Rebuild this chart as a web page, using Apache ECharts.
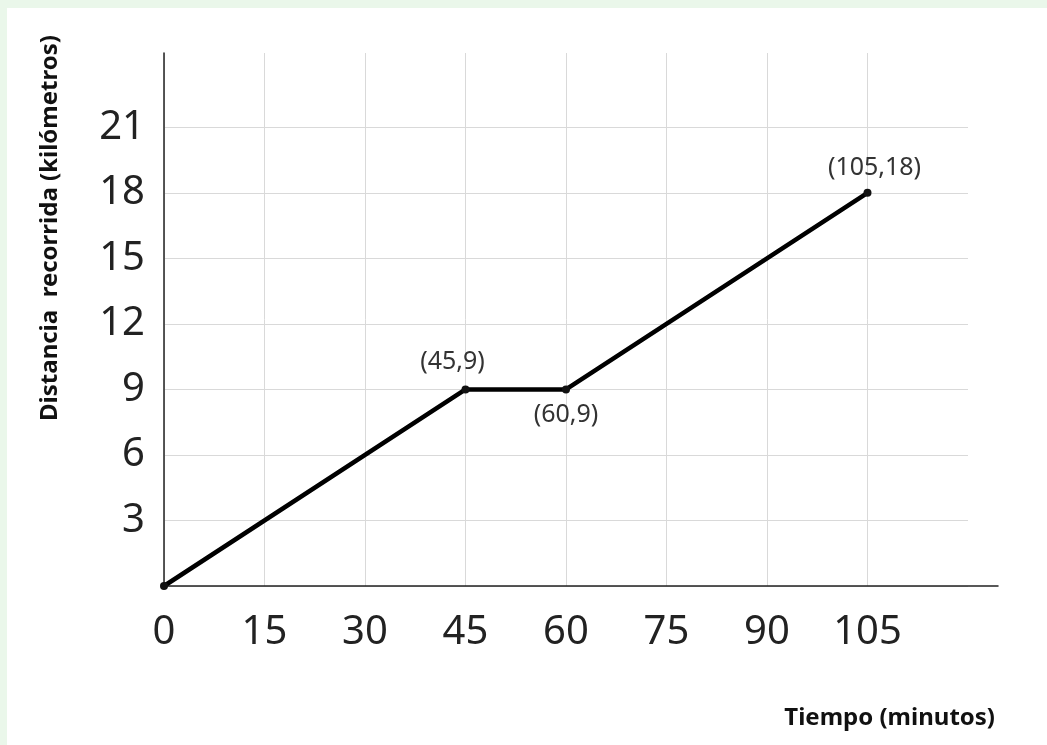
<!DOCTYPE html>
<html>
<head>
<meta charset="utf-8">
<script src="https://cdn.jsdelivr.net/npm/echarts@6/dist/echarts.min.js"></script>
<style>
html,body{margin:0;padding:0;background:#eaf7ea;width:1047px;height:745px;overflow:hidden;}
#chart{position:absolute;left:7px;top:8px;width:1040px;height:737px;background:#ffffff;}
</style>
</head>
<body>
<div id="chart"></div>
<script>
// Data
const xTicks = [0, 15, 30, 45, 60, 75, 90, 105];
const yTicks = [3, 6, 9, 12, 15, 18, 21];
const times = [0, 45, 60, 105];        // minutos
const distances = [0, 9, 9, 18];       // kilómetros
const pointLabels = ['', '(45,9)', '(60,9)', '(105,18)'];
const xTitle = 'Tiempo (minutos)';
const yTitle = 'Distancia  recorrida (kilómetros)';

const FONT = '"Noto Sans", "Open Sans", sans-serif';
const labelCfg = [
  null,
  {position: 'top', distance: 11, offset: [-13, 0]},
  {position: 'bottom', distance: 9, offset: [0, 0]},
  {position: 'top', distance: 8, offset: [7, 0]}
];

const seriesData = times.map((t, i) => {
  const item = {value: [t, distances[i]]};
  if (pointLabels[i]) {
    item.label = Object.assign({
      show: true,
      formatter: pointLabels[i],
      fontSize: 25,
      color: '#333',
      fontFamily: FONT
    }, labelCfg[i]);
  }
  return item;
});

const grayLines = n => Array(n).fill('#d9d9d9');
const chart = echarts.init(document.getElementById('chart'));
chart.setOption({
  animation: false,
  backgroundColor: '#ffffff',
  grid: [
    {left: 157, top: 45, right: 79, bottom: 159, containLabel: false},
    {left: 157, top: 45, right: 49, bottom: 159, containLabel: false}
  ],
  xAxis: [
    {
      type: 'value', gridIndex: 0, min: 0, max: 120, interval: 15,
      axisLine: {show: false},
      axisTick: {show: false},
      axisLabel: {
        fontSize: 40, color: '#222', fontFamily: FONT, margin: 27,
        formatter: v => xTicks.includes(v) ? String(v) : ''
      },
      splitLine: {show: true, lineStyle: {width: 1, color: grayLines(8).concat(['transparent'])}}
    },
    {
      type: 'value', gridIndex: 1, min: 0, max: 1,
      axisLine: {show: true, onZero: false, lineStyle: {color: '#222', width: 1.5}},
      axisTick: {show: false}, axisLabel: {show: false}, splitLine: {show: false}
    }
  ],
  yAxis: [
    {
      type: 'value', gridIndex: 0, min: 0, max: 24.4, interval: 3,
      axisLine: {show: true, lineStyle: {color: '#222', width: 1.5}},
      axisTick: {show: false},
      axisLabel: {
        fontSize: 40, color: '#222', fontFamily: FONT, margin: 19,
        formatter: v => yTicks.includes(v) ? String(v) : ''
      },
      splitLine: {show: true, lineStyle: {width: 1, color: grayLines(8).concat(['transparent', 'transparent'])}}
    },
    {
      type: 'value', gridIndex: 1, show: false, min: 0, max: 1
    }
  ],
  series: [{
    type: 'line',
    xAxisIndex: 0, yAxisIndex: 0,
    data: seriesData,
    symbol: 'circle',
    symbolSize: 8,
    showAllSymbol: true,
    lineStyle: {color: '#000', width: 4.5},
    itemStyle: {color: '#111'},
    z: 5
  }],
  graphic: [
    {
      type: 'text', x: 988, y: 710,
      style: {text: xTitle, font: 'bold 24px ' + FONT, fill: '#111', textAlign: 'right', textVerticalAlign: 'middle'}
    },
    {
      type: 'text', x: 43, y: 220, rotation: Math.PI / 2,
      style: {text: yTitle, font: 'bold 24px ' + FONT, fill: '#111', textAlign: 'center', textVerticalAlign: 'middle'}
    }
  ]
});
</script>
</body>
</html>
